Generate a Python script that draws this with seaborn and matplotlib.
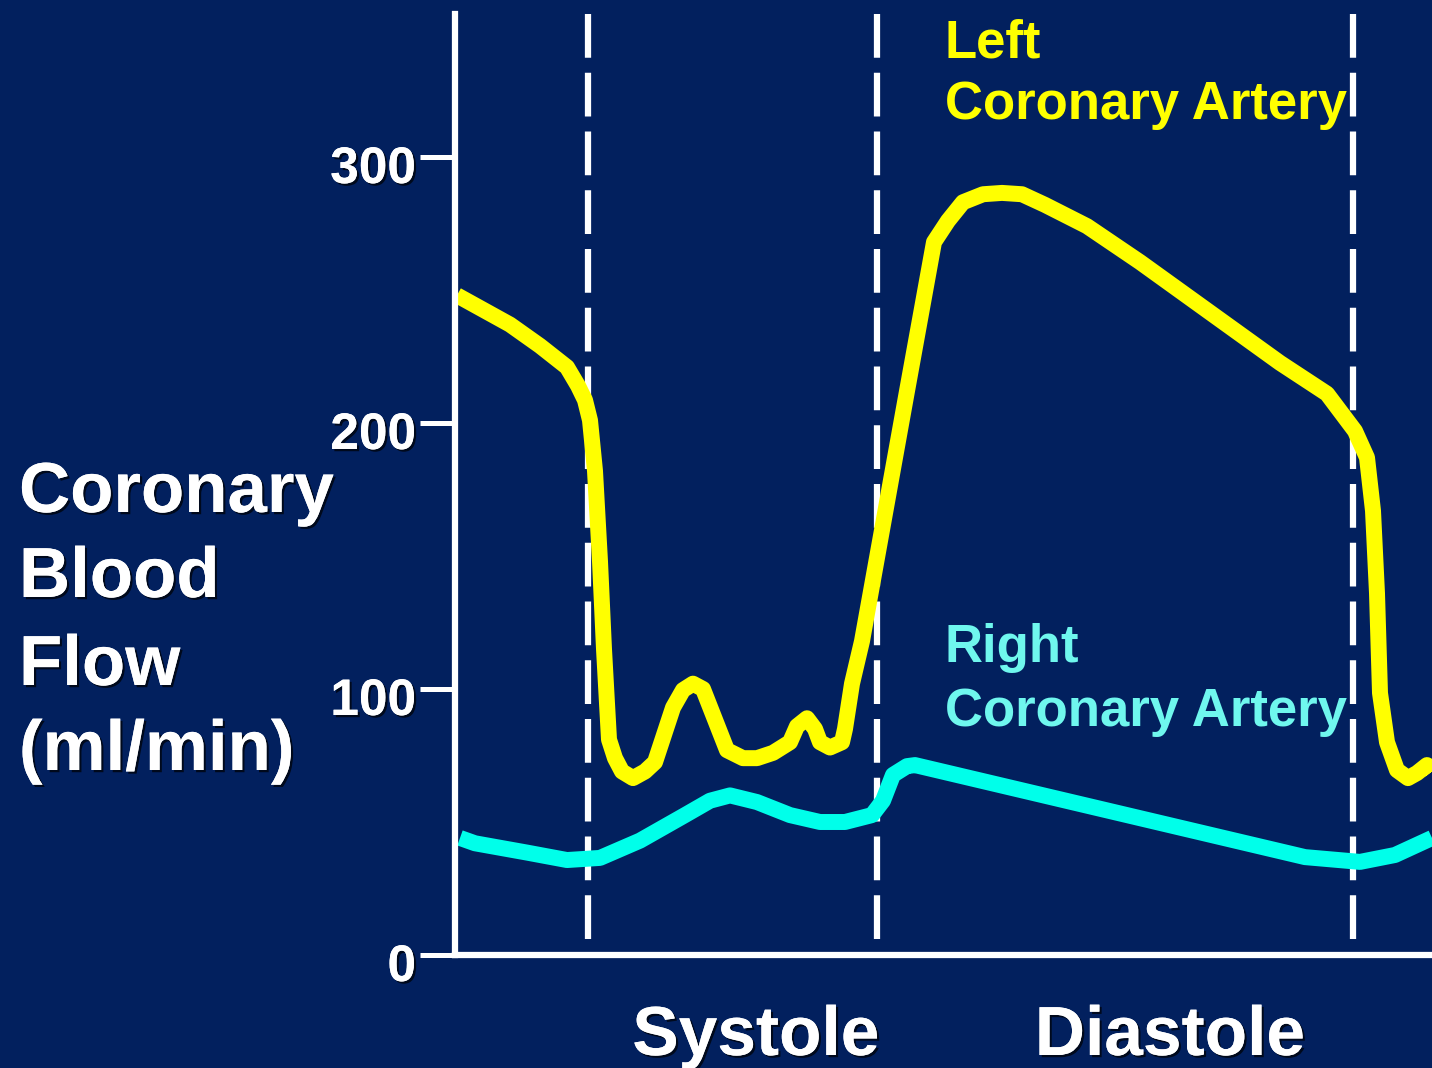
"""
Coronary blood flow through one cardiac cycle, left vs right coronary artery.
"""

import matplotlib
matplotlib.use("Agg")
import matplotlib.pyplot as plt
import matplotlib.patheffects as pe
import matplotlib.transforms as mtransforms
import pandas as pd
import seaborn as sns

# time axis in arbitrary units (0 = y axis, 977 = right edge)
left_t = [2, 55, 85, 112, 123, 130, 135, 140, 145, 149, 154, 160, 167, 178,
          190, 200, 218, 228, 238, 248, 272, 288, 302, 318, 335, 342, 352,
          360, 365, 375, 387, 390, 397, 407, 452, 479, 493, 508, 528, 547,
          567, 590, 632, 685, 825, 872, 900, 912, 918, 922, 925, 932, 942,
          953, 962, 972, 977]
left_flow = [248, 237, 229, 221, 214, 208.6, 201, 182, 148, 115, 81, 74, 69,
             66.5, 69, 72.5, 93, 99.6, 102, 100, 77, 74, 74, 76, 80, 86, 89,
             85, 80, 78, 80, 85, 102, 118, 212, 268, 276, 283, 286, 286.5,
             286, 282, 274, 260.5, 222.6, 211, 197, 187, 167, 136, 98.5, 80,
             69.5, 66.5, 68.4, 71.4, 69]

right_t = [5, 20, 72, 112, 145, 185, 230, 255, 275, 302, 335, 365, 390, 417,
           428, 438, 452, 460, 850, 905, 940, 977]
right_flow = [44, 42, 38.5, 35.7, 36.5, 43, 52.6, 58, 60, 57.5, 52.6, 50, 50,
              52.6, 58, 67.7, 71, 71.4, 36.8, 35, 37.6, 44]

phase_bounds = [133, 422, 898]
phase_names = ["Systole", "Diastole"]
phase_label_x = [756, 1170]

y_ticks = [0, 100, 200, 300]
ylabel_lines = ["Coronary", "Blood", "Flow", "(ml/min)"]

BG = "#02205E"
YELLOW = "#FFFF00"
CYAN = "#00FFEA"
CYAN_TEXT = "#6FF7EE"
FONT = "Liberation Sans"

W, H = 1432, 1068

sns.set_style("white")
plt.rcParams["font.family"] = [FONT, "DejaVu Sans"]

fig = plt.figure(figsize=(W / 100, H / 100), dpi=100, facecolor=BG)
ax = fig.add_axes([455 / W, (H - 955) / H, 1 - 455 / W, (955 - 14) / H])
ax.set_facecolor(BG)

shadow = [pe.withSimplePatchShadow(offset=(1.6, -1.6), shadow_rgbFace="black", alpha=0.7),
          pe.Normal()]

# phase boundaries, dashes start from the top
for xb in phase_bounds:
    ax.axvline(xb, ymin=1, ymax=0, color="white", lw=4.5,
               linestyle=(0, (31.5 / 4.5, 10.8 / 4.5)),
               dash_capstyle="butt", zorder=1)

left_df = pd.DataFrame({"t": left_t, "flow": left_flow})
right_df = pd.DataFrame({"t": right_t, "flow": right_flow})

sns.lineplot(data=right_df, x="t", y="flow", ax=ax, color=CYAN, lw=11.5,
             sort=False, estimator=None, solid_joinstyle="round",
             solid_capstyle="butt", zorder=3)
sns.lineplot(data=left_df, x="t", y="flow", ax=ax, color=YELLOW, lw=11.5,
             sort=False, estimator=None, solid_joinstyle="round",
             solid_capstyle="butt", zorder=4)

ax.set_xlim(0, 977)
ax.set_ylim(0, (955 - 14) / 2.66)
ax.set_xlabel("")
ax.set_ylabel("")
ax.set_xticks([])
ax.set_yticks(y_ticks)
ax.set_yticklabels([str(v) for v in y_ticks], fontsize=37, fontweight="bold",
                   color="white", family=FONT)
ax.tick_params(axis="y", length=25, width=3.6, color="white", pad=3, left=True)

offset = mtransforms.ScaledTranslation(0, -7 / 100, fig.dpi_scale_trans)
for lab in ax.get_yticklabels():
    lab.set_transform(lab.get_transform() + offset)
    lab.set_path_effects(shadow)

for side in ["top", "right"]:
    ax.spines[side].set_visible(False)
for side in ["left", "bottom"]:
    ax.spines[side].set_color("white")
    ax.spines[side].set_linewidth(4.5)
    ax.spines[side].set_zorder(5)

# y label, one line per row
for line, base in zip(ylabel_lines, [512, 597, 685, 770]):
    fig.text(19 / W, 1 - base / H, line, fontsize=51, fontweight="bold",
             color="white", ha="left", va="baseline", path_effects=shadow)

# phase names below the axis
for name, xc in zip(phase_names, phase_label_x):
    fig.text(xc / W, 1 - 1055 / H, name, fontsize=50, fontweight="bold",
             color="white", ha="center", va="baseline", path_effects=shadow)

# series labels
fig.text(945 / W, 1 - 57 / H, "Left", fontsize=38, fontweight="bold",
         color=YELLOW, ha="left", va="baseline")
fig.text(945 / W, 1 - 119 / H, "Coronary Artery", fontsize=38, fontweight="bold",
         color=YELLOW, ha="left", va="baseline")
fig.text(945 / W, 1 - 662 / H, "Right", fontsize=38, fontweight="bold",
         color=CYAN_TEXT, ha="left", va="baseline")
fig.text(945 / W, 1 - 726 / H, "Coronary Artery", fontsize=38, fontweight="bold",
         color=CYAN_TEXT, ha="left", va="baseline")

fig.savefig("out.png", dpi=100, facecolor=BG)
plt.close(fig)
